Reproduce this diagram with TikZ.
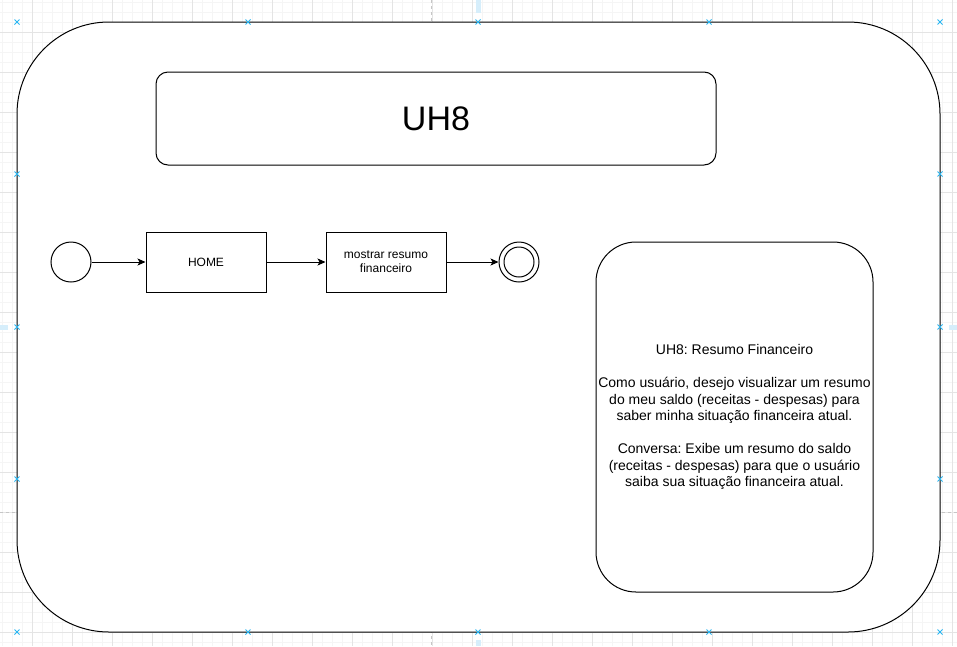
\documentclass[tikz,border=0pt]{standalone}
\usepackage{fontspec}
\setmainfont{Liberation Sans}
\usetikzlibrary{arrows.meta,calc}
\frenchspacing
\definecolor{gridminor}{HTML}{F5F5F5}
\definecolor{gridmajor}{HTML}{E4E4E4}
\definecolor{mark}{HTML}{29B6F2}
\definecolor{guide}{HTML}{D6EEFB}
\tikzset{
  box/.style={draw=black, line width=1pt, fill=white, minimum width=120pt, minimum height=60pt, inner sep=0pt, align=center, font=\fontsize{12}{14}\selectfont},
  evt/.style={draw=black, line width=1pt, fill=white, circle, minimum size=40pt, inner sep=0pt},
  flow/.style={draw=black, line width=1pt, -{Stealth[length=8pt,width=7pt,inset=2pt]}},
  selmark/.style={draw=mark, line width=1pt},
}
\newcommand{\xmark}[1]{\draw[selmark] ($(#1)+(-2.5,-2.5)$) -- ($(#1)+(2.5,2.5)$) ($(#1)+(-2.5,2.5)$) -- ($(#1)+(2.5,-2.5)$);}
\begin{document}
\begin{tikzpicture}[x=1pt,y=-1pt]
\useasboundingbox (0,0) rectangle (957,646);
\fill[white] (0,0) rectangle (957,646);
% grid
\foreach \i in {2,12,...,952} \draw[gridminor, line width=0.8pt] (\i,0) -- (\i,646);
\foreach \i in {2,12,...,642} \draw[gridminor, line width=0.8pt] (0,\i) -- (957,\i);
\foreach \i in {32,72,...,952} \draw[gridmajor, line width=0.8pt] (\i,0) -- (\i,646);
\foreach \i in {32,72,...,642} \draw[gridmajor, line width=0.8pt] (0,\i) -- (957,\i);
\draw[gray!45, dashed, line width=0.8pt] (431,0) -- (431,646);
\draw[gray!45, dashed, line width=0.8pt] (0,512) -- (957,512);
% guides
\fill[guide] (476,0) rectangle (481,13);
\fill[guide] (476,640) rectangle (481,646);
\fill[guide] (0,324.5) rectangle (8,329.5);
\fill[guide] (949,324.5) rectangle (957,329.5);
% outer container
\draw[line width=1pt, fill=white, rounded corners=92pt] (17,22) rectangle (940,632);
% title
\node[draw=black, line width=1pt, fill=white, rounded corners=12pt, minimum width=560pt, minimum height=93pt, inner sep=0pt, font=\fontsize{34}{40}\selectfont] (title) at (436,118.5) {UH8};
% flow
\node[evt] (start) at (71,262) {};
\node[box] (home) at (206,262) {HOME};
\node[box] (resumo) at (386,262) {mostrar resumo\\financeiro};
\node[evt] (end) at (519,262) {};
\draw[line width=1pt] (end.center) circle (15pt);
\draw[flow] (start) -- (home);
\draw[flow] (home) -- (resumo);
\draw[flow] (resumo) -- (end);
% story card
\node[draw=black, line width=1pt, fill=white, rounded corners=40pt, minimum width=277pt, minimum height=350pt, inner sep=0pt, align=center, font=\fontsize{14}{16.5}\selectfont] (card) at (734.5,417) {UH8: Resumo Financeiro\\[16.5pt]Como usuário, desejo visualizar um resumo\\do meu saldo (receitas - despesas) para\\saber minha situação financeira atual.\\[16.5pt]Conversa: Exibe um resumo do saldo\\(receitas - despesas) para que o usuário\\saiba sua situação financeira atual.};
% selection markers
\foreach \px in {17,248,478,709,940} {\xmark{\px,22} \xmark{\px,632}}
\foreach \py in {174,327,479} {\xmark{17,\py} \xmark{940,\py}}
\end{tikzpicture}
\end{document}
